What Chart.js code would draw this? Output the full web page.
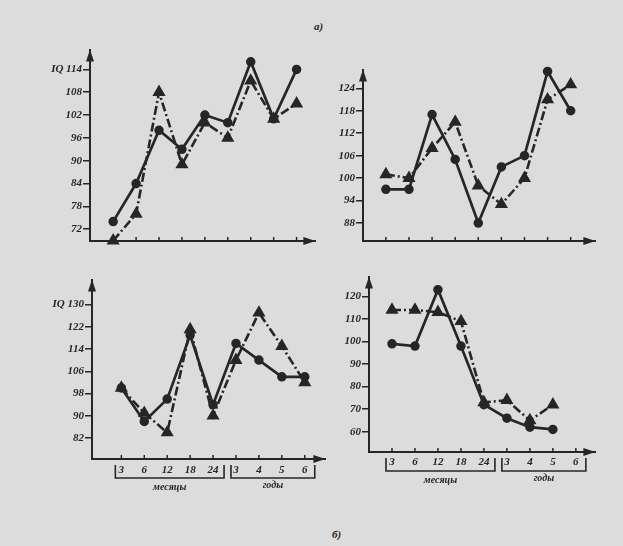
<!DOCTYPE html>
<html>
<head>
<meta charset="utf-8">
<script src="https://cdn.jsdelivr.net/npm/chart.js@4"></script>
<style>
  body { margin: 0; width: 623px; height: 546px; overflow: hidden; position: relative; background: #dcdcdc; }
  canvas { position: absolute; }
  .cap { position: absolute; font: italic bold 11px 'Liberation Serif', serif; color: #262626; }
</style>
</head>
<body>
<canvas id="a1"></canvas>
<canvas id="a2"></canvas>
<canvas id="b1"></canvas>
<canvas id="b2"></canvas>
<div class="cap" style="left:314px; top:20px;">а)</div>
<div class="cap" style="left:332px; top:528px;">б)</div>
<script>
// age points: months, then years
const xLabels = ['3', '6', '12', '18', '24', '3', '4', '5', '6'];
const groupNames = ['месяцы', 'годы'];

// а) left
const a1Ticks = [72, 78, 84, 90, 96, 102, 108, 114];
const a1Solid = [74, 84, 98, 93, 102, 100, 116, 101, 114];
const a1Dash = [69, 76, 108, 89, 100, 96, 111, 101, 105];

// а) right
const a2Ticks = [88, 94, 100, 106, 112, 118, 124];
const a2Solid = [97, 97, 117, 105, 88, 103, 106, 128.5, 118];
const a2Dash = [101, 100, 108, 115, 98, 93, 100, 121, 125];

// б) left
const b1Ticks = [82, 90, 98, 106, 114, 122, 130];
const b1Solid = [100, 88, 96, 119, 94, 116, 110, 104, 104];
const b1Dash = [100, 91, 84, 121, 90, 110, 127, 115, 102];

// б) right
const b2Ticks = [60, 70, 80, 90, 100, 110, 120];
const b2Solid = [99, 98, 123, 98, 72, 66, 62, 61, null];
const b2Dash = [114, 114, 113, 109, 73, 74, 65, 72, null];

const ink = '#262626';
const tickFont = { family: 'Liberation Serif', style: 'italic', weight: 'bold', size: 11 };
const YW = 50, PT = 6, PR = 6;

const decor = {
  id: 'decor',
  afterDraw(chart, args, opts) {
    const { ctx, chartArea: a } = chart;
    const x = chart.scales.x;
    ctx.save();
    ctx.fillStyle = ink;
    ctx.strokeStyle = ink;
    // arrow heads
    ctx.beginPath();
    ctx.moveTo(a.left, a.top);
    ctx.lineTo(a.left - 4, a.top + 12);
    ctx.lineTo(a.left + 4, a.top + 12);
    ctx.closePath();
    ctx.fill();
    ctx.beginPath();
    ctx.moveTo(a.right, a.bottom);
    ctx.lineTo(a.right - 12, a.bottom - 4);
    ctx.lineTo(a.right - 12, a.bottom + 4);
    ctx.closePath();
    ctx.fill();
    // small ticks standing on the x axis
    ctx.lineWidth = 1.5;
    x.ticks.forEach(t => {
      const px = x.getPixelForValue(t.value);
      ctx.beginPath();
      ctx.moveTo(px, a.bottom);
      ctx.lineTo(px, a.bottom - 4);
      ctx.stroke();
    });
    if (opts.brackets) {
      const p = i => x.getPixelForValue(i);
      const y0 = a.bottom + 6, y1 = a.bottom + 19;
      const spans = [[p(0) - 6, p(4) + 11], [p(5) - 5, p(8) + 10]];
      ctx.lineWidth = 1.6;
      ctx.font = 'italic bold 10px "Liberation Serif"';
      ctx.textAlign = 'center';
      ctx.textBaseline = 'middle';
      spans.forEach(([l, r], k) => {
        ctx.beginPath();
        ctx.moveTo(l, y0);
        ctx.lineTo(l, y1);
        ctx.lineTo(r, y1);
        ctx.lineTo(r, y0);
        ctx.stroke();
        ctx.fillText(groupNames[k], (l + r) / 2, y1 + (k ? 7 : 9));
      });
    }
    ctx.restore();
  }
};

function panel(id, g, ticks, solid, dash) {
  const xH = g.labels ? 45 : 12;
  const cv = document.getElementById(id);
  cv.width = g.right - g.axisX + YW + PR;
  cv.height = g.axisY - g.top + PT + xH;
  cv.style.left = (g.axisX - YW) + 'px';
  cv.style.top = (g.top - PT) + 'px';

  new Chart(cv, {
    type: 'line',
    data: {
      datasets: [{
        data: solid.map((v, i) => ({ x: i, y: v })),
        borderColor: ink,
        backgroundColor: ink,
        borderWidth: 2.7,
        pointStyle: 'circle',
        pointRadius: 3.4,
        clip: false
      }, {
        data: dash.map((v, i) => ({ x: i, y: v })),
        borderColor: ink,
        backgroundColor: ink,
        borderWidth: 2.6,
        borderDash: [9, 3, 2, 3],
        pointStyle: 'triangle',
        pointRadius: 5,
        clip: false
      }]
    },
    options: {
      responsive: false,
      animation: false,
      devicePixelRatio: 1,
      layout: { padding: { top: PT, right: PR, left: 0, bottom: 0 } },
      plugins: {
        legend: { display: false },
        tooltip: { enabled: false },
        decor: { brackets: !!g.labels }
      },
      scales: {
        x: {
          type: 'linear',
          min: g.xmin,
          max: g.xmax,
          afterFit: s => { s.height = xH; },
          afterBuildTicks: s => { s.ticks = xLabels.map((_, i) => ({ value: i })); },
          grid: { display: false },
          border: { color: ink, width: 2 },
          ticks: {
            display: !!g.labels,
            padding: g.lp || 0,
            color: ink,
            font: tickFont,
            maxRotation: 0,
            autoSkip: false,
            callback: (v, i) => xLabels[i]
          }
        },
        y: {
          min: g.ymin,
          max: g.ymax,
          afterFit: s => { s.width = YW; },
          afterBuildTicks: s => { s.ticks = ticks.map(v => ({ value: v })); },
          grid: { drawOnChartArea: false, tickLength: 7, color: ink, lineWidth: 1.5 },
          border: { color: ink, width: 2 },
          ticks: {
            padding: 1,
            color: ink,
            font: tickFont,
            callback: v => (g.iq && v === ticks[ticks.length - 1]) ? 'IQ ' + v : v
          }
        }
      }
    },
    plugins: [decor]
  });
}

panel('a1', { axisX: 90, axisY: 241, top: 48, right: 317, xmin: -1.01, xmax: 8.82, ymin: 68.9, ymax: 119.2, iq: true }, a1Ticks, a1Solid, a1Dash);
panel('a2', { axisX: 363, axisY: 241, top: 68, right: 597, xmin: -0.99, xmax: 9.07, ymin: 83.2, ymax: 129.0 }, a2Ticks, a2Solid, a2Dash);
panel('b1', { axisX: 92, axisY: 459, top: 278, right: 327, xmin: -1.28, xmax: 8.9, ymin: 74.5, ymax: 138.9, iq: true, labels: true, lp: -3 }, b1Ticks, b1Solid, b1Dash);
panel('b2', { axisX: 369, axisY: 452, top: 275, right: 597, xmin: -1.0, xmax: 8.85, ymin: 51.0, ymax: 128.8, labels: true, lp: -4 }, b2Ticks, b2Solid, b2Dash);
</script>
</body>
</html>
